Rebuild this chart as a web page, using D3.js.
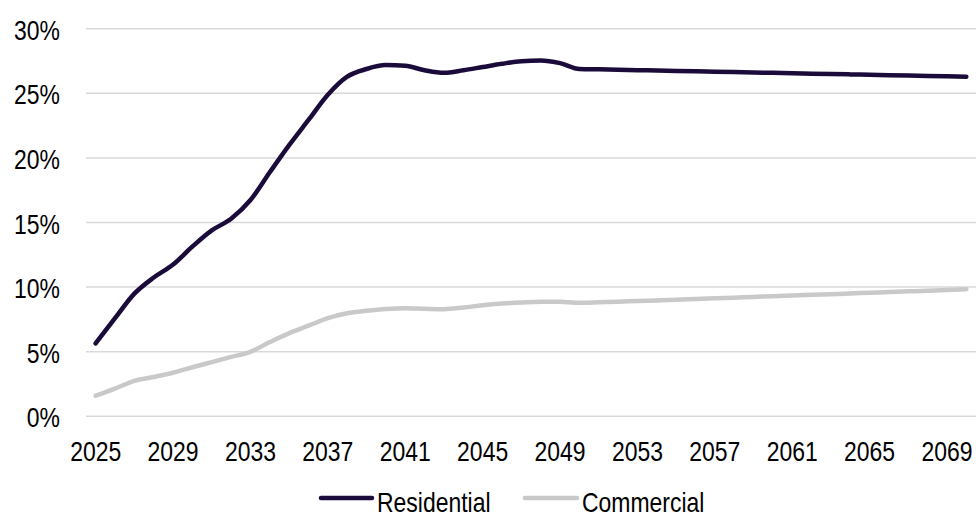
<!DOCTYPE html>
<html>
<head>
<meta charset="utf-8">
<script src="https://cdn.jsdelivr.net/npm/d3@7"></script>
<style>
  html, body { margin: 0; padding: 0; background: #fff; }
  svg { display: block; }
  text { font-family: "Liberation Sans", Arial, sans-serif; font-size: 28px; fill: #000; }
</style>
</head>
<body>
<svg id="chart" width="976" height="517"></svg>
<script>
// Share of new installations by segment, yearly projection
const years = d3.range(2025, 2071);

const residential = [
  5.6, 7.55, 9.45, 10.7, 11.7, 13.1, 14.35, 15.25, 16.7, 18.85,
  20.95, 22.9, 24.85, 26.25, 26.85, 27.15, 27.1, 26.75, 26.55, 26.75,
  27.0, 27.25, 27.45, 27.5, 27.3, 26.85, 26.82, 26.79, 26.76, 26.73,
  26.70, 26.67, 26.64, 26.61, 26.58, 26.55, 26.52, 26.49, 26.46, 26.43,
  26.40, 26.37, 26.34, 26.31, 26.28, 26.25
];

const commercial = [
  1.55, 2.1, 2.7, 3.0, 3.33, 3.75, 4.15, 4.55, 4.95, 5.7,
  6.4, 6.97, 7.55, 7.93, 8.12, 8.26, 8.32, 8.28, 8.25, 8.38,
  8.55, 8.68, 8.77, 8.83, 8.82, 8.74, 8.78, 8.83, 8.88, 8.93,
  8.98, 9.04, 9.09, 9.14, 9.20, 9.25, 9.31, 9.36, 9.41, 9.47,
  9.52, 9.58, 9.63, 9.68, 9.74, 9.79
];

const yTicks = [0, 5, 10, 15, 20, 25, 30];
const xTickYears = years.filter(y => (y - 2025) % 4 === 0);

const seriesList = [
  { name: "Residential", values: residential, color: "#1b0b3b" },
  { name: "Commercial", values: commercial, color: "#c9c9c9" }
];

// Condensed lettering: regular sans squeezed horizontally
const SQ = 0.82;

const svg = d3.select("#chart");
const plot = { left: 86, right: 976, top: 28.3, bottom: 415.7 };

const x = d3.scaleBand().domain(years).range([plot.left, plot.right]).padding(0);
const cx = yr => x(yr) + x.bandwidth() / 2;
const y = d3.scaleLinear().domain([0, 30]).range([plot.bottom, plot.top]);

// Horizontal gridlines and percentage labels
const yAxis = d3.axisLeft(y)
  .tickValues(yTicks)
  .tickSize(-(plot.right - plot.left))
  .tickPadding(26)
  .tickFormat(d => d + "%");

const gy = svg.append("g")
  .attr("transform", `translate(${plot.left},0)`)
  .call(yAxis);
gy.select(".domain").remove();
gy.selectAll(".tick line").attr("stroke", "#d9d9d9").attr("stroke-width", 1.5);
gy.selectAll(".tick text")
  .attr("dy", null)
  .attr("x", -26 / SQ)
  .attr("y", 11)
  .attr("transform", `scale(${SQ},1)`)
  .attr("text-anchor", "end")
  .style("font-size", "28px")
  .style("font-family", null);

// Year labels under the plot
const xAxis = d3.axisBottom(x)
  .tickValues(xTickYears)
  .tickSize(0)
  .tickPadding(0)
  .tickFormat(d => String(d));

const gx = svg.append("g")
  .attr("transform", `translate(0,${plot.bottom})`)
  .call(xAxis);
gx.select(".domain").remove();
gx.selectAll(".tick text")
  .attr("dy", null)
  .attr("y", 45)
  .attr("transform", `scale(${SQ},1)`)
  .style("font-size", "28px")
  .style("font-family", null);

// Series lines
const line = d3.line()
  .x((d, i) => cx(years[i]))
  .y(d => y(d))
  .curve(d3.curveMonotoneX);

svg.append("g").selectAll("path")
  .data(seriesList.slice().reverse())
  .join("path")
  .attr("d", s => line(s.values))
  .attr("fill", "none")
  .attr("stroke", s => s.color)
  .attr("stroke-width", 4.5)
  .attr("stroke-linecap", "round")
  .attr("stroke-linejoin", "round");

// Legend
const legendItems = [
  { s: seriesList[0], x0: 321, x1: 372, tx: 377 },
  { s: seriesList[1], x0: 525, x1: 577, tx: 582 }
];
const lg = svg.append("g");
legendItems.forEach(item => {
  lg.append("line")
    .attr("x1", item.x0).attr("x2", item.x1)
    .attr("y1", 498).attr("y2", 498)
    .attr("stroke", item.s.color)
    .attr("stroke-width", 4.5)
    .attr("stroke-linecap", "round");
  lg.append("text")
    .attr("x", item.tx / SQ)
    .attr("y", 512)
    .attr("transform", `scale(${SQ},1)`)
    .text(item.s.name);
});
</script>
</body>
</html>
